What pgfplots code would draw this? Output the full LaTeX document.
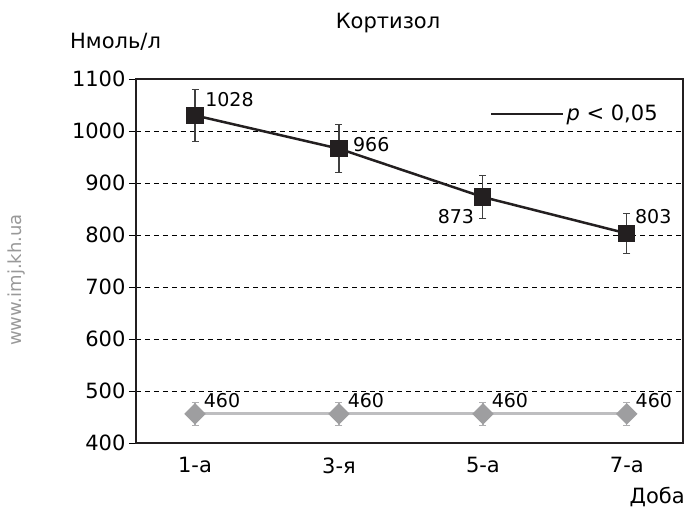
\documentclass[border=0pt]{standalone}
\usepackage{fontspec}
\setmainfont{DejaVu Sans}
\usepackage{pgfplots}
\pgfplotsset{compat=1.18}
\definecolor{ser}{RGB}{190,190,192}
\definecolor{sermk}{RGB}{158,158,160}
\definecolor{serbar}{RGB}{175,175,177}
\definecolor{dk}{RGB}{35,31,32}
\begin{document}
\begin{tikzpicture}[font=\fontsize{21}{24}\selectfont]
\begin{axis}[
  scale only axis, width=547pt, height=364pt,
  xmin=-0.41, xmax=3.39, ymin=400, ymax=1100,
  xtick={0,1,2,3}, xticklabels={1-а,3-я,5-а,7-а},
  ytick={400,500,...,1100},
  major x tick style={draw=none},
  xticklabel style={yshift=-4pt},
  ytick pos=left, tick align=outside, major tick length=7pt,
  tick style={black, line width=1pt},
  axis line style={dk, line width=1.2pt},
  ymajorgrids, grid style={black, line width=0.8pt, dash pattern=on 5pt off 4pt},
  /pgf/number format/assume math mode=true,
  /pgf/number format/1000 sep={},
  ticklabel style={font=\fontsize{21}{24}\selectfont},
  legend image code/.code={\draw[#1] (0pt,0pt) -- (72pt,0pt);},
  legend style={at={(0.647,0.904)}, anchor=west, draw=none, fill=none, inner sep=0pt,
    font=\fontsize{21}{24}\selectfont},
  clip=false,
]
\addplot[ser, line width=2.8pt, mark=square*, mark size=6.2pt,
  mark options={solid, sermk, rotate=45}, forget plot,
  error bars/.cd, y dir=both, y explicit,
  error bar style={serbar, line width=1.2pt},
  error mark options={rotate=90, mark size=3.5pt, serbar, line width=1.2pt}]
  coordinates {(0,456) +- (0,22) (1,456) +- (0,22) (2,456) +- (0,22) (3,456) +- (0,22)};
\addplot[dk, line width=2.5pt, mark=square*, mark size=7.3pt, mark options={solid, dk},
  forget plot,
  error bars/.cd, y dir=both, y explicit,
  error bar style={black!75, line width=1.1pt},
  error mark options={rotate=90, mark size=3.5pt, black!75, line width=1.1pt}]
  coordinates {(0,1030) +- (0,50) (1,966) +- (0,46) (2,873) +- (0,41) (3,803) +- (0,38)};
\addlegendimage{dk, line width=2.5pt}
\addlegendentry{\textit{p} < 0,05}
\begin{scope}[font=\fontsize{19}{22}\selectfont, inner sep=0pt]
\node[anchor=west] at (axis cs:0.07,1061) {1028};
\node[anchor=west] at (axis cs:1.097,973) {966};
\node[anchor=east] at (axis cs:1.94,836) {873};
\node[anchor=west] at (axis cs:3.056,836) {803};
\node[anchor=west] at (axis cs:0.06,481) {460};
\node[anchor=west] at (axis cs:1.06,481) {460};
\node[anchor=west] at (axis cs:2.06,481) {460};
\node[anchor=west] at (axis cs:3.06,481) {460};
\end{scope}
\end{axis}
\node[anchor=base] at (252pt,414pt) {Кортизол};
\node[anchor=base west, inner sep=0pt] at (-66pt,394pt) {Нмоль/л};
\node[anchor=east, inner sep=0pt] at (549pt,-54pt) {Доба};
\node[rotate=90, text=black!40, font=\fontsize{18}{20}\selectfont] at (-119pt,163pt) {www.imj.kh.ua};
\path (-136pt,-69pt) rectangle (552pt,443pt);
\end{tikzpicture}
\end{document}
